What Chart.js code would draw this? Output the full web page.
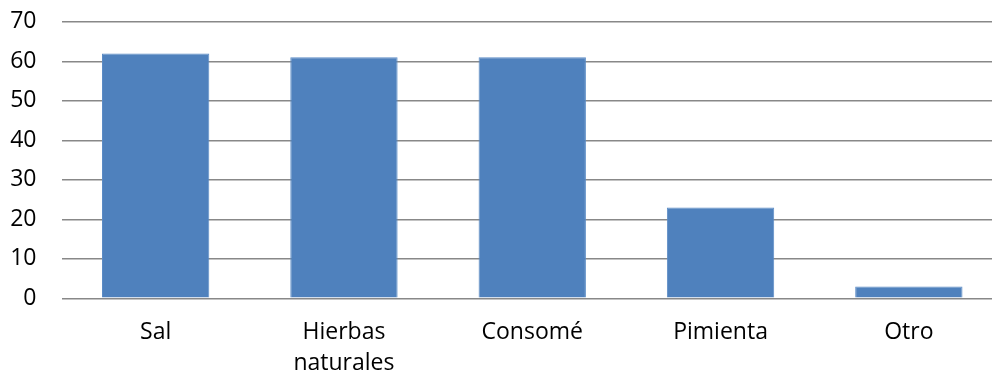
<!DOCTYPE html>
<html>
<head>
<meta charset="utf-8">
<script src="https://cdn.jsdelivr.net/npm/chart.js@4/dist/chart.umd.min.js"></script>
<style>
  html, body { margin: 0; padding: 0; background: #fff; overflow: hidden; }
  #wrap { width: 1004px; height: 375px; }
</style>
</head>
<body>
<div id="wrap"><canvas id="c" width="1004" height="375"></canvas></div>
<script>
const categories = ['Sal', ['Hierbas', 'naturales'], 'Consomé', 'Pimienta', 'Otro'];
const values = [62, 61, 61, 23, 3];
const yTicks = [0, 10, 20, 30, 40, 50, 60, 70];

const FONT = "'Open Sans', 'Liberation Sans', sans-serif";

new Chart(document.getElementById('c'), {
  type: 'bar',
  data: {
    labels: categories,
    datasets: [{
      data: values,
      backgroundColor: '#4F81BD',
      borderColor: '#5c8cc6',
      borderWidth: 1,
      barPercentage: 0.57,
      categoryPercentage: 1.0
    }]
  },
  options: {
    responsive: false,
    animation: false,
    devicePixelRatio: 1,
    layout: { padding: { top: 21.8, right: 1, left: 0, bottom: 0 } },
    plugins: { legend: { display: false }, tooltip: { enabled: false } },
    scales: {
      x: {
        grid: { display: false, drawTicks: false },
        border: { display: false },
        afterFit: (axis) => { axis.height = 76.7; },
        ticks: {
          color: '#000',
          font: { family: FONT, size: 23, lineHeight: 1.35 },
          padding: 19,
          maxRotation: 0,
          autoSkip: false
        }
      },
      y: {
        min: yTicks[0],
        max: yTicks[yTicks.length - 1],
        afterBuildTicks: (axis) => { axis.ticks = yTicks.map(v => ({ value: v })); },
        afterFit: (axis) => {
          axis.width = 61.5;
          axis.paddingTop = 0;
          axis.paddingBottom = 0;
        },
        grid: { color: '#888888', lineWidth: 1.5, drawTicks: false },
        border: { display: false },
        ticks: {
          color: '#000',
          font: { family: FONT, size: 23 },
          padding: 25
        }
      }
    }
  }
});
</script>
</body>
</html>
